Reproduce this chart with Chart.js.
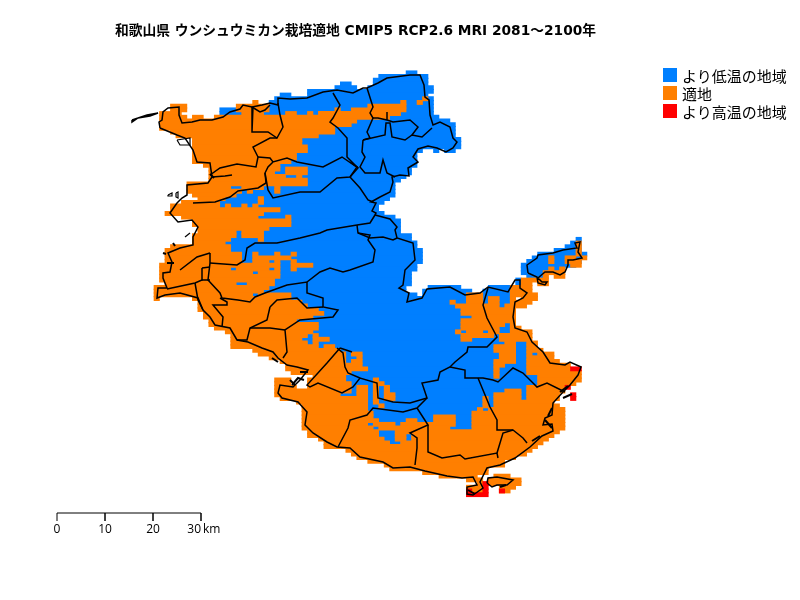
<!DOCTYPE html>
<html>
<head>
<meta charset="utf-8">
<style>
  html, body { margin: 0; padding: 0; background: #fff; }
  #wrap { position: relative; width: 800px; height: 600px; overflow: hidden; font-family: "DejaVu Sans", "Noto Sans CJK JP", sans-serif; color: #000; }
  #map { position: absolute; left: 0; top: 0; }
  #title { position: absolute; left: 115px; top: 19px; font-weight: bold; font-size: 13.75px; white-space: nowrap; }
  .swatch { position: absolute; left: 663px; width: 14px; height: 14px; }
  .legend { position: absolute; left: 682px; font-size: 15px; font-family: "Noto Sans CJK JP", sans-serif; white-space: nowrap; line-height: 18px; }
  .km { position: absolute; top: 520px; font-size: 12px; white-space: nowrap; font-family: "Open Sans", sans-serif; }
</style>
<script src="https://cdn.jsdelivr.net/npm/chart.js@4"></script>
</head>
<body>
<div id="wrap">
  <canvas id="map" width="800" height="600"></canvas>
  <div id="title">和歌山県 ウンシュウミカン栽培適地 CMIP5 RCP2.6 MRI 2081～2100年</div>
  <div id="legendBox"></div>
  <div id="kmBox"></div>
</div>
<script>
// mesh: row, then column pairs (from, to)
const blueRuns = [
  [0,46,47],[1,41,49],[2,40,49],[3,34,35,40,49],[4,33,36,39,50],[5,28,50],[6,23,24,28,49],[7,22,50],[8,21,50],
  [9,21,50],[10,12,14,21,50],[11,12,15,20,50],[12,43,51],[13,37,53],[14,36,54],[15,33,54],[16,33,54],[17,30,54],
  [18,27,55],[19,27,55],[20,27,55],[21,28,48,51,51,53,54],[22,26,47],[23,26,47],[24,25,47],[25,23,47],[26,23,46],
  [27,22,46],[28,24,45],[29,27,44],[30,28,43],[31,14,43],[32,15,43],[33,15,43],[34,13,42],[35,12,41],[36,12,40],
  [37,23,40],[38,20,41],[39,19,43],[40,19,44],[41,25,44],[42,21,44],[43,15,44],[44,15,46],[45,14,46],[46,13,47],
  [47,14,47],[48,14,48],[49,16,48],[50,16,48],[51,16,48],[52,23,47],[53,14,47],[54,18,46],[55,23,46],[56,22,46],
  [57,15,46],[58,21,45,50,55,61,64],[59,20,45,49,57,60,64],[60,18,47,49,64],[61,25,64],[62,27,64],[63,28,64],
  [64,30,55],[65,31,55],[66,29,57],[67,26,55],[68,30,64],[69,30,64],[70,29,64],[71,28,62],[72,27,62],[73,28,67],
  [74,30,67],[75,34,67],[76,35,69],[77,35,67],[78,35,67],[79,38,67],[80,39,67],[81,36,67],[82,35,69],[83,35,69],
  [84,36,69],[85,36,67],[86,36,67],[87,34,67],[88,39,67],[89,39,67],[90,39,61],[91,39,60],[92,40,57],[93,40,57],
  [94,41,57],[95,39,57],[96,39,57],[97,41,43],[98,41,43,46,46],[99,42,43,46,46],[100,43,44],
  [45,77,77],[46,76,77],[47,75,77],[48,73,77],[49,70,78],[50,69,77],[51,68,77],[52,67,76],[53,67,74],[54,67,70],
  [55,68,70],[56,66,66],[57,66,66]
];
const orangeRuns = [
  [7,49,49],[8,18,18,45,45,48,48],[9,3,5,15,20,39,45],[10,3,5,15,20,33,33,36,45],
  [11,1,4,16,19,24,25,28,28,30,44],[12,1,5,7,8,11,42],[13,1,36],[14,1,35],[15,1,32],[16,3,32],[17,4,29],
  [18,7,26],[19,7,26],[20,7,27],[21,7,27],[22,7,25],[23,7,25],[24,7,24],[25,9,22],[26,10,22,24,27],[27,10,21,24,27],
  [28,10,23,26,26],[29,10,27],[30,6,27],[31,6,13,16,19,22,22],[32,6,15,17,17,22,22],[33,7,14],[34,8,12,19,19],
  [35,5,11,19,19],[36,3,11,13,13,16,16,18,18],[37,3,22],[38,2,19],[39,5,18,24,24],[40,7,24],[41,7,24],[42,8,20],
  [43,8,14,16,19],[44,7,14,16,19],[45,7,13,19,19],[46,7,12],[47,3,13],[48,2,13],[49,2,15,18,18,22,22,25,25],
  [50,2,15,18,24],[51,2,15,18,20,22,22,25,25],[52,1,22,25,28],[53,1,13,15,20,22,22,25,25],[54,1,17,19,22],[55,1,22],
  [56,1,21],[57,2,14,17,21],[58,0,20],[59,0,19],[60,0,17,19,24,57,59,65,69],[61,0,0,7,24,57,59,61,62,65,65,67,69],
  [62,8,26,54,54,57,59,61,62,65,68],[63,8,27,55,62,64,67],[64,8,29,56,65],[65,9,30,56,65],[66,9,28,58,65],
  [67,10,25,56,65],[68,10,29,56,63,65,65],[69,11,29,56,62,65,66],[70,13,28,55,55,57,59,61,62,65,68],
  [71,14,27,29,29,56,61,63,68],[72,14,26,29,31,56,57,63,68],[73,14,27,29,29,64,65,68,69],[74,14,29,31,32,62,65,68,69],
  [75,18,33,62,65,68,70],[76,19,34,36,37,63,65,68,68,70,72],[77,21,34,37,37,63,65,68,72],[78,23,34,36,37,62,65,68,73],
  [79,24,37,62,63,68,75],[80,24,38,62,62,68,75],[81,25,35,62,62,68,77],[82,29,34,62,62,70,77],
  [83,22,24,28,34,40,40,70,77],[84,22,24,28,35,40,41,70,76],[85,22,25,28,35,37,38,40,40,42,42,68,74],
  [86,22,35,37,38,40,40,42,42,64,66,68,74],[87,22,33,37,38,40,40,42,43,62,66,68,73],
  [88,23,38,40,40,42,43,60,60,62,66,68,73],[89,26,38,40,40,60,60,62,72],[90,27,38,41,41,60,60,62,73],
  [91,27,38,59,59,61,74],[92,27,39,58,74],[93,27,39,51,54,58,74],[94,27,40,46,47,51,54,58,74],
  [95,27,38,40,43,45,54,58,74],[96,27,39,41,53,58,74],[97,28,40,44,73],[98,28,40,44,45,47,72],
  [99,30,41,44,45,47,71],[100,31,42,45,70],[101,31,69],[102,35,68],[103,36,67],
  [104,37,65],[105,39,63],[106,42,63],[107,43,60],[108,49,60],[109,52,58,62,64],[110,57,59,61,66],[111,59,59,61,66],
  [112,57,59,63,65],[113,58,59,63,64],
  [46,77,77],[47,77,77],[48,77,77],[49,77,77],[50,72,72,75,76,78,78],[51,72,72,75,77],[52,76,77],[53,72,72,74,74],
  [54,71,74],[55,71,71,73,74],[56,67,71],[57,67,68,70,71],[58,65,68],[59,65,68]
];
const redRuns = [
  [80,76,77],[85,75,75],[87,76,76],[88,76,76],[111,60,60],[112,60,60],[113,57,57,60,60,63,63],[114,57,60]
];

// boundaries in map units
const coastMain = [
  [160,128],[159,122],[162,120],[163,112],[168,108],[179,107],[179,115],[182,123],[192,122],[200,120],[212,120],[223,117],[230,112],[240,109],[243,105],[252,107],[262,105],[270,103],[278,105],[278,98],[290,99],[307,98],[323,92],[337,90],[353,93],[363,88],[367,88],[378,83],[387,78],[410,75],[420,75],[424,85],[425,97],[429,100],[430,115],[433,125],[440,122],[450,127],[453,138],[457,142],[453,148],[446,152],[437,148],[428,146],[418,149],[413,157],[418,162],[408,168],[409,176],[400,175],[392,177],[393,182],[390,192],[380,197],[371,202],[376,203],[372,211],[376,213],[375,215],[390,219],[397,227],[395,230],[397,238],[413,243],[415,260],[405,270],[403,285],[399,288],[409,293],[407,302],[422,298],[427,289],[450,287],[465,295],[480,293],[488,287],[508,292],[515,280],[520,280],[520,288],[527,293],[523,298],[515,302],[513,317],[515,328],[527,332],[532,342],[543,352],[550,363],[565,365],[570,362],[581,367],[578,375],[570,385],[563,392],[553,403],[552,415],[545,418],[543,425],[552,424],[553,431],[542,436],[530,447],[515,458],[500,465],[487,468],[480,482],[483,488],[473,495],[467,494],[467,487],[477,485],[473,477],[462,478],[447,476],[425,471],[410,467],[393,468],[383,462],[360,457],[350,448],[337,447],[327,442],[313,433],[305,425],[307,412],[298,402],[282,398],[278,393],[280,385],[293,387],[300,380],[308,370],[297,367],[287,365],[278,358],[273,352],[262,348],[248,342],[237,340],[230,328],[215,325],[210,317],[203,310],[198,298],[180,293],[165,295],[157,298],[158,288],[167,288],[163,278],[163,273],[170,272],[172,262],[168,253],[180,248],[193,245],[193,237],[198,227],[192,220],[178,222],[170,213],[177,203],[182,198],[187,195],[187,185],[208,183],[212,177],[210,163],[197,162],[193,150],[185,138],[177,135],[160,128]
];
const exclave = [[528,273],[527,265],[537,258],[538,255],[553,253],[563,250],[577,248],[575,243],[580,242],[578,252],[582,258],[573,260],[568,260],[568,265],[565,272],[560,275],[553,272],[545,272],[538,278],[542,282],[547,282],[545,285],[538,283],[537,277],[528,273]];
const capeIsland = [[487,483],[488,478],[497,477],[513,480],[507,485],[497,485],[492,487],[487,483]];
const islandNorth = [[132,120],[147,115],[158,113],[150,116],[138,118],[132,122],[132,120]];
const islets = [
  [[168,195],[172,193],[172,196],[168,196],[168,195]],
  [[176,193],[178,192],[178,198],[176,197],[176,193]],
  [[185,237],[190,233]],
  [[177,140],[190,138],[190,145],[180,145],[177,140]]
];
const shoals = [
  [[210,174],[214,178]],[[173,243],[175,246]],[[163,253],[166,254]],[[167,263],[174,263]],
  [[292,385],[298,378],[304,380]],[[300,372],[308,372]],[[290,380],[295,385]],[[272,358],[278,362]],
  [[552,408],[548,416]],[[545,420],[552,428]],[[540,436],[532,441]],[[468,490],[475,494]],[[500,487],[506,485]],
  [[560,392],[568,386]],[[563,398],[572,394]]
];
const cityLines = [
  [[253,107],[252,132],[268,132],[277,138],[283,127],[280,115],[278,103]],
  [[252,107],[260,112],[265,110],[270,105]],
  [[277,138],[270,138],[253,147],[258,157],[256,167],[237,164],[220,168],[210,175]],
  [[258,157],[270,158],[273,162],[287,158],[297,162],[323,167],[342,157],[358,168],[350,177],[337,178],[320,192],[300,192],[273,198],[268,190],[265,173],[268,167],[273,162]],
  [[266,183],[258,188],[238,191],[230,197],[215,202],[193,203]],
  [[265,173],[266,183]],
  [[212,177],[225,176],[232,175]],
  [[333,93],[340,105],[333,118],[330,122],[338,128],[347,138],[347,157],[358,168]],
  [[350,177],[360,188],[368,200],[373,202]],
  [[363,140],[362,152],[365,157],[360,167],[365,173],[380,173],[383,160],[387,173],[395,177]],
  [[350,162],[357,167],[350,177]],
  [[363,140],[385,135],[386,123],[390,123],[392,137],[405,140],[412,135],[422,137],[432,128]],
  [[367,88],[373,107],[370,113],[373,118],[367,132],[370,138],[363,140]],
  [[373,118],[378,118],[387,120],[387,112],[387,120],[393,122],[410,120],[418,127],[412,135]],
  [[357,225],[370,223],[375,215]],
  [[357,225],[358,233],[370,238],[383,237],[393,240],[397,238]],
  [[210,263],[237,265],[245,260],[247,248],[255,243],[277,243],[300,238],[320,233],[327,230],[357,225]],
  [[210,253],[197,257],[180,270]],
  [[210,253],[210,263],[208,280],[220,293],[222,298],[238,300],[250,302],[255,297],[265,293],[287,285],[307,282],[307,293],[323,298],[323,307],[338,310],[333,317],[300,320],[285,330],[287,352],[283,358]],
  [[202,268],[210,267]],
  [[202,268],[202,280],[195,283],[167,289]],
  [[195,283],[198,300],[203,310]],
  [[202,280],[210,280]],
  [[220,298],[227,302],[227,305],[213,305],[223,317],[222,327]],
  [[307,282],[320,272],[330,268],[343,272],[350,270],[373,262],[375,250],[368,240],[370,235],[358,233]],
  [[270,307],[277,300],[297,298],[307,308],[323,307]],
  [[270,307],[267,320],[250,328],[247,340],[237,340]],
  [[285,330],[270,328],[250,328]],
  [[340,348],[327,363],[307,385],[310,387],[318,383],[342,393],[353,387],[360,378],[377,383],[378,398],[393,402],[410,403],[427,398],[422,383],[438,380],[440,372],[450,367],[455,362],[467,352],[468,347],[475,347],[487,347],[497,337],[487,318],[483,305],[488,288]],
  [[337,348],[343,353],[345,367],[348,373],[360,378]],
  [[340,348],[352,352]],
  [[427,398],[417,408],[403,412],[373,408],[367,415],[350,420],[348,428],[338,447]],
  [[417,408],[428,425],[410,433],[417,438],[417,448],[415,465]],
  [[428,425],[428,452],[442,458],[460,455],[465,459],[497,453],[498,458]],
  [[497,453],[503,433],[513,430],[523,438],[527,443]],
  [[450,367],[465,370],[465,378],[483,378],[493,380],[498,382],[513,368],[523,373],[533,383],[537,387],[547,383],[565,392]],
  [[478,378],[490,407],[497,420],[497,430],[513,430]]
];

const scaleKm = [0, 10, 20, 30];
const legendLabels = ['より低温の地域', '適地', 'より高温の地域'];
const legendColors = ['#007fff', '#ff7f00', '#ff0000'];

const X0 = 154, Y0 = 71, CW = 5.48, CH = 3.7, PX_PER_KM = 4.8, SCALE_X = 57, SCALE_Y = 513;

function runBars(runs) {
  const out = [];
  runs.forEach(r => {
    for (let i = 1; i < r.length; i += 2) {
      out.push({ x: [X0 + r[i] * CW, X0 + (r[i + 1] + 1) * CW], y: Y0 + (r[0] + 0.5) * CH });
    }
  });
  return out;
}
function cellSet(runs, color, order) {
  return { type: 'bar', indexAxis: 'y', grouped: false, data: runBars(runs), backgroundColor: color, borderWidth: 0, barThickness: 4.2, order };
}
function lineSet(pts, w) {
  return { type: 'scatter', showLine: true, data: pts.map(p => ({ x: p[0], y: p[1] })), borderColor: '#000', borderWidth: w || 1.5, pointRadius: 0, tension: 0, order: 0 };
}

const scaleLine = [];
scaleKm.forEach((k, i) => {
  const x = SCALE_X + k * PX_PER_KM;
  if (i === 0) { scaleLine.push([x, SCALE_Y + 8], [x, SCALE_Y]); }
  else { scaleLine.push([x, SCALE_Y], [x, SCALE_Y + 8], [x, SCALE_Y]); }
});

new Chart(document.getElementById('map'), {
  type: 'scatter',
  data: {
    datasets: [
      lineSet(coastMain), lineSet(exclave), lineSet(capeIsland), lineSet(islandNorth),
      ...cityLines.map(l => lineSet(l)),
      ...islets.map(l => lineSet(l, 1.2)),
      ...shoals.map(l => lineSet(l, 2)),
      lineSet(scaleLine, 1),
      cellSet(redRuns, legendColors[2], 1),
      cellSet(orangeRuns, legendColors[1], 2),
      cellSet(blueRuns, legendColors[0], 3)
    ]
  },
  options: {
    responsive: false,
    animation: false,
    events: [],
    layout: { padding: 0 },
    plugins: { legend: { display: false }, tooltip: { enabled: false } },
    scales: {
      x: { type: 'linear', min: 0, max: 800, display: false, offset: false },
      y: { type: 'linear', min: 0, max: 600, reverse: true, display: false, offset: false }
    }
  }
});

const legendBox = document.getElementById('legendBox');
legendLabels.forEach((t, i) => {
  const top = 68 + i * 18.2;
  legendBox.innerHTML += `<div class="swatch" style="top:${top}px;background:${legendColors[i]}"></div><div class="legend" style="top:${top - 1}px">${t}</div>`;
});
const kmBox = document.getElementById('kmBox');
scaleKm.forEach((k, i) => {
  const x = SCALE_X + k * PX_PER_KM;
  const shift = i === scaleKm.length - 1 ? 'translateX(-100%)' : 'translateX(-50%)';
  kmBox.innerHTML += `<div class="km" style="left:${x}px;transform:${shift}">${k}</div>`;
});
kmBox.innerHTML += `<div class="km" style="left:203px">km</div>`;
</script>
</body>
</html>
